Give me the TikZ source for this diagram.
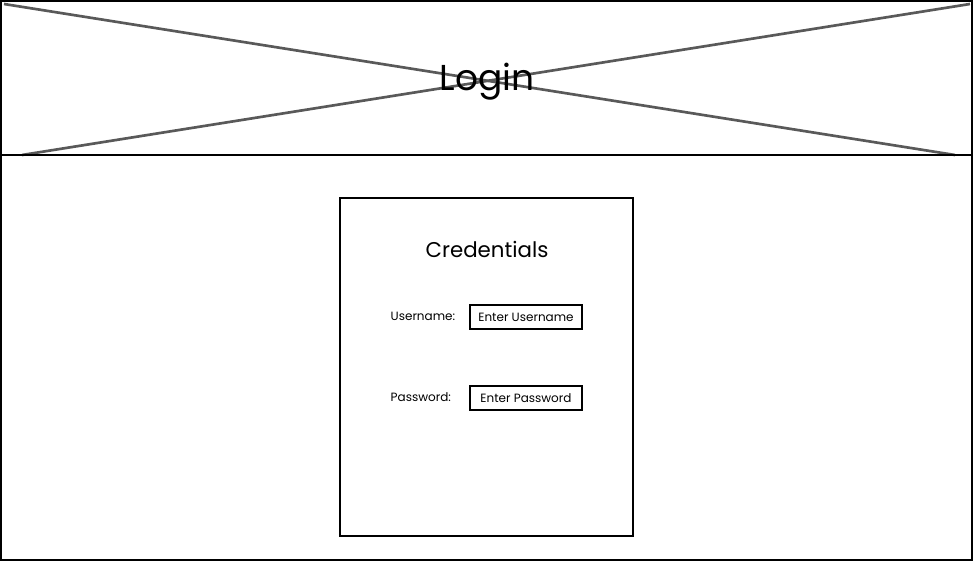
\documentclass[tikz,border=0pt]{standalone}
\usepackage{fontspec}
\setmainfont{Poppins}
\usepackage{tikz}

\begin{document}
\begin{tikzpicture}[x=0.75pt,y=-0.75pt,
    frame/.style={draw=black,line width=1.6pt},
    cross/.style={draw=black!65,line width=2pt},
    fieldbox/.style={draw=black,line width=1.6pt,minimum width=84pt,minimum height=18pt,inner sep=2pt,font=\fontsize{9}{10}\selectfont},
    fieldlabel/.style={anchor=west,font=\fontsize{9}{10}\selectfont}]
    \useasboundingbox (0,0) rectangle (974,563);
    % header with placeholder cross
    \draw[frame] (1,1) rectangle (972,155);
    \draw[cross] (4,4) -- (955,155);
    \draw[cross] (22,155) -- (970,4);
    \node[font=\fontsize{27}{29}\selectfont] (login) at (487,82) {Login};
    % body
    \draw[frame] (1,155) rectangle (972,560);
    \draw[frame] (340,198) rectangle (633,536);
    \node[font=\fontsize{16}{18}\selectfont] (cred) at (487,249) {Credentials};
    \node[fieldlabel] (userlbl) at (386,316) {Username:};
    \node[fieldbox] (userbox) at (526,317) {Enter Username};
    \node[fieldlabel] (passlbl) at (386,397) {Password:};
    \node[fieldbox] (passbox) at (526,398) {Enter Password};
\end{tikzpicture}
\end{document}
